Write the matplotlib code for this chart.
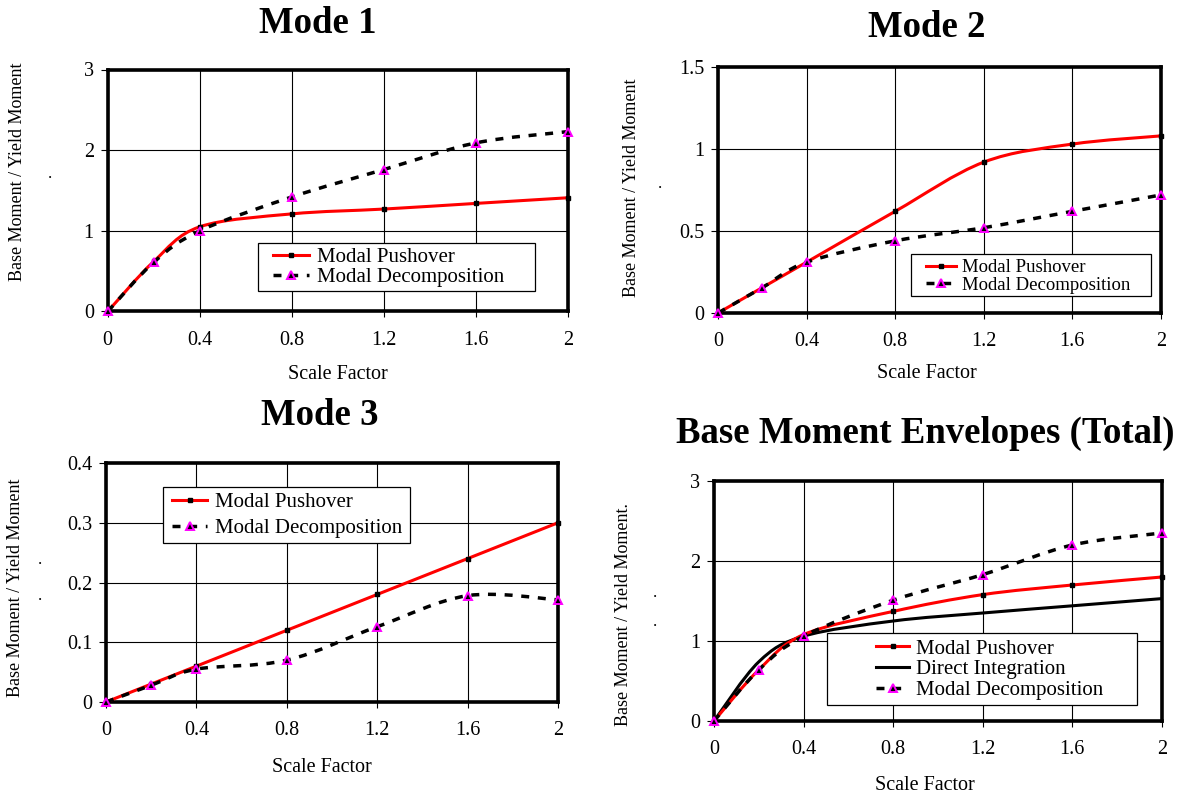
import numpy as np
import matplotlib
matplotlib.use("Agg")
import matplotlib.pyplot as plt
from matplotlib.path import Path
from matplotlib.patches import PathPatch, Rectangle
from matplotlib.lines import Line2D

plt.rcParams['font.family'] = ['Liberation Serif', 'DejaVu Serif']

# ---------------- data ----------------
scale_factor = [0.0, 0.2, 0.4, 0.8, 1.2, 1.6, 2.0]

mode1_pushover = [0.0, 0.62, 1.05, 1.21, 1.27, 1.34, 1.41]
mode1_decomp = [0.0, 0.61, 1.00, 1.42, 1.76, 2.09, 2.23]

mode2_pushover = [0.0, 0.155, 0.31, 0.62, 0.92, 1.03, 1.08]
mode2_decomp = [0.0, 0.155, 0.31, 0.44, 0.52, 0.62, 0.72]

mode3_pushover = [0.0, 0.03, 0.06, 0.12, 0.18, 0.24, 0.30]
mode3_decomp = [0.0, 0.028, 0.055, 0.07, 0.126, 0.178, 0.171]

total_pushover = [0.0, 0.64, 1.08, 1.37, 1.58, 1.70, 1.80]
total_direct = [0.0, 0.74, 1.06, 1.25, 1.35, 1.44, 1.53]
total_decomp = [0.0, 0.64, 1.06, 1.51, 1.83, 2.20, 2.35]

x_ticks = [0, 0.4, 0.8, 1.2, 1.6, 2]
x_tick_labels = ['0', '0.4', '0.8', '1.2', '1.6', '2']

titles = ['Mode 1', 'Mode 2', 'Mode 3', 'Base Moment Envelopes (Total)']
x_label = 'Scale Factor'
y_label = 'Base Moment / Yield Moment'
y_label_total = 'Base Moment / Yield Moment.'
lbl_push = 'Modal Pushover'
lbl_direct = 'Direct Integration'
lbl_decomp = 'Modal Decomposition'

# ---------------- figure ----------------
W, H = 1177, 797
fig = plt.figure(figsize=(W / 100, H / 100), dpi=100)


def fx(px):
    return px / W


def fy(py):
    return 1 - py / H


def smooth_path(x, y):
    """Excel-like smoothed line: cubic Bezier segments through the points."""
    pts = np.column_stack([x, y]).astype(float)
    n = len(pts)
    verts = [pts[0]]
    codes = [Path.MOVETO]
    for i in range(n - 1):
        p0 = pts[i - 1] if i > 0 else pts[i]
        p1 = pts[i]
        p2 = pts[i + 1]
        p3 = pts[i + 2] if i + 2 < n else pts[i + 1]
        c1 = p1 + (p2 - p0) / 6.0
        c2 = p2 - (p3 - p1) / 6.0
        verts += [c1, c2, p2]
        codes += [Path.CURVE4] * 3
    return Path(verts, codes)


RED = '#ff0000'
MAG = '#ff00ff'
DASH = (0, (2.3, 2.5))

push_style = dict(color=RED, lw=2.2)
push_marker = dict(marker='s', ms=3.5, mfc='black', mec='black', ls='none')
dec_style = dict(color='black', lw=2.5)
dec_marker = dict(marker='^', ms=6, mfc='black', mec=MAG, mew=1.4, ls='none')


def draw_curve(ax, x, y, style, dashed=False, zorder=3):
    p = PathPatch(smooth_path(x, y), fill=False, edgecolor=style['color'],
                  lw=style['lw'], linestyle=DASH if dashed else '-',
                  transform=ax.transData, zorder=zorder, clip_on=False,
                  capstyle='butt')
    ax.add_patch(p)


def setup_axes(rect_px, ymax, ystep):
    l, r, t, b = rect_px
    ax = fig.add_axes([fx(l), fy(b), fx(r) - fx(l), fy(t) - fy(b)])
    ax.set_xlim(0, 2)
    ax.set_ylim(0, ymax)
    ax.set_xticks(x_ticks)
    ax.set_xticklabels(x_tick_labels)
    yt = np.arange(0, ymax + 1e-9, ystep)
    ax.set_yticks(yt)
    ax.set_yticklabels(['%g' % v for v in yt])
    ax.grid(True, color='black', lw=0.8)
    ax.set_axisbelow(True)
    for s in ax.spines.values():
        s.set_linewidth(2.6)
        s.set_color('black')
    ax.tick_params(axis='y', direction='out', length=5, width=0.8,
                   labelsize=14.5, pad=5)
    ax.tick_params(axis='x', direction='out', length=4, width=0.8,
                   labelsize=14.5, pad=10)
    return ax


def legend_box(handles, labels, box, hx, cy, fs, hl, htp, ls):
    x0, x1, y0, y1 = box
    rect = Rectangle((fx(x0), fy(y1)), fx(x1) - fx(x0), fy(y0) - fy(y1),
                     transform=fig.transFigure, facecolor='white',
                     edgecolor='black', lw=0.9, zorder=4)
    fig.add_artist(rect)
    leg = fig.legend(handles, labels, loc='center left',
                     bbox_to_anchor=(fx(hx), fy(cy)),
                     bbox_transform=fig.transFigure, fontsize=fs,
                     frameon=False, handlelength=hl, handletextpad=htp,
                     borderpad=0, labelspacing=ls, borderaxespad=0)
    leg.set_zorder(5)
    return leg


h_push = Line2D([], [], color=RED, lw=2.2, marker='s', ms=3.5, mfc='black', mec='black')
h_dec = Line2D([], [], color='black', lw=2.5, ls=DASH, marker='^', ms=6,
               mfc='black', mec=MAG, mew=1.4)
h_dir = Line2D([], [], color='black', lw=2.2)

# ---------- panel 1 ----------
ax1 = setup_axes((107.7, 568, 69.5, 311.5), 3, 1)
draw_curve(ax1, scale_factor, mode1_pushover, push_style)
draw_curve(ax1, scale_factor, mode1_decomp, dec_style, dashed=True)
ax1.plot(scale_factor, mode1_pushover, clip_on=False, zorder=5, **push_marker)
ax1.plot(scale_factor, mode1_decomp, clip_on=False, zorder=6, **dec_marker)
legend_box([h_push, h_dec], [lbl_push, lbl_decomp], (258, 535, 243, 291),
           273, 267.5, 15, 1.75, 0.35, 0.0)

# ---------- panel 2 ----------
ax2 = setup_axes((718, 1161, 67, 313), 1.5, 0.5)
draw_curve(ax2, scale_factor, mode2_pushover, push_style)
draw_curve(ax2, scale_factor, mode2_decomp, dec_style, dashed=True)
ax2.plot(scale_factor, mode2_pushover, clip_on=False, zorder=5, **push_marker)
ax2.plot(scale_factor, mode2_decomp, clip_on=False, zorder=6, **dec_marker)
legend_box([h_push, h_dec], [lbl_push, lbl_decomp], (911, 1151, 254, 296),
           926, 276.5, 13.5, 1.6, 0.33, 0.0)

# ---------- panel 3 ----------
ax3 = setup_axes((106, 558, 463, 702), 0.4, 0.1)
draw_curve(ax3, scale_factor, mode3_pushover, push_style)
draw_curve(ax3, scale_factor, mode3_decomp, dec_style, dashed=True)
ax3.plot(scale_factor, mode3_pushover, clip_on=False, zorder=5, **push_marker)
ax3.plot(scale_factor, mode3_decomp, clip_on=False, zorder=6, **dec_marker)
legend_box([h_push, h_dec], [lbl_push, lbl_decomp], (163, 410, 487, 543),
           172, 515.5, 15, 1.7, 0.35, 0.3)

# ---------- panel 4 ----------
ax4 = setup_axes((714, 1162, 481, 721), 3, 1)
draw_curve(ax4, scale_factor, total_direct, dict(color='black', lw=2.2))
draw_curve(ax4, scale_factor, total_pushover, push_style)
draw_curve(ax4, scale_factor, total_decomp, dec_style, dashed=True)
ax4.plot(scale_factor, total_pushover, clip_on=False, zorder=5, **push_marker)
ax4.plot(scale_factor, total_decomp, clip_on=False, zorder=6, **dec_marker)
legend_box([h_push, h_dir, h_dec], [lbl_push, lbl_direct, lbl_decomp],
           (827, 1137, 633, 705), 876, 669.5, 15, 1.6, 0.3, 0.05)

# ---------- titles & labels ----------
title_kw = dict(fontsize=26.5, fontweight='bold', ha='center', va='baseline')
fig.text(fx(318), fy(33), titles[0], **title_kw)
fig.text(fx(927), fy(37), titles[1], **title_kw)
fig.text(fx(320), fy(425), titles[2], **title_kw)
fig.text(fx(925), fy(443), titles[3], **title_kw)

xl_kw = dict(fontsize=14.5, ha='center', va='baseline')
fig.text(fx(338), fy(379), x_label, **xl_kw)
fig.text(fx(927), fy(378), x_label, **xl_kw)
fig.text(fx(322), fy(772), x_label, **xl_kw)
fig.text(fx(925), fy(790), x_label, **xl_kw)

yl_kw = dict(fontsize=13, ha='center', va='center', rotation=90)
fig.text(fx(18), fy(172), y_label, **yl_kw)
fig.text(fx(631), fy(188), y_label, **yl_kw)
fig.text(fx(16), fy(588), y_label, **yl_kw)
fig.text(fx(623), fy(615), y_label_total, **yl_kw)

dot_kw = dict(fontsize=12, ha='center', va='center')
fig.text(fx(50), fy(174), '.', **dot_kw)
fig.text(fx(660), fy(184), '.', **dot_kw)
fig.text(fx(40), fy(560), '.', **dot_kw)
fig.text(fx(40), fy(596), '.', **dot_kw)
fig.text(fx(655), fy(593), '.', **dot_kw)
fig.text(fx(655), fy(622), '.', **dot_kw)

fig.savefig('out.png', dpi=100)
